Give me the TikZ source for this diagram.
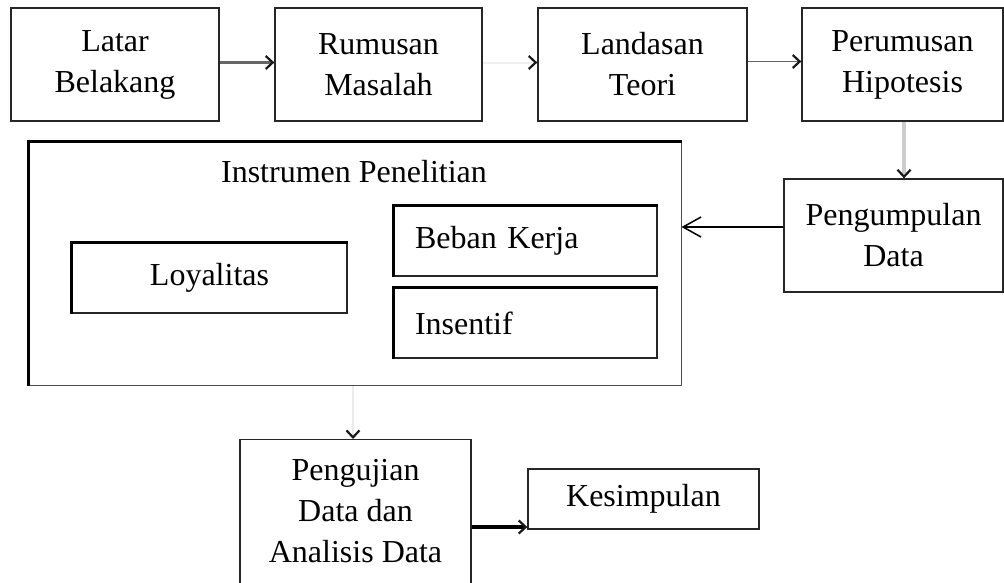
\documentclass[tikz,border=0pt]{standalone}
\usepackage{fontspec}
\setmainfont{Liberation Serif}
\usetikzlibrary{arrows.meta}
\begin{document}
\begin{tikzpicture}[x=1pt,y=-1pt,
  box/.style={draw=black!85, line width=1.3pt, inner sep=0pt, align=center,
    font=\fontsize{32}{41}\selectfont},
  leftbox/.style={box, align=left, inner xsep=21pt, text width=221pt},
  thickedge/.style={line width=3.2pt, black},
  smalltip/.style={-{Straight Barb[length=7pt,width=13pt,line width=2.2pt,color=black!90]}},
  bigtip/.style={-{Straight Barb[length=18pt,width=20pt,line width=1.5pt]}}
]
\useasboundingbox (0,0) rectangle (1004,582);
\clip (0,0) rectangle (1004,582);

% top row
\node[box, minimum width=208pt, minimum height=113pt] (latar) at (115,64.5) {Latar\\Belakang};
\node[box, minimum width=207pt, minimum height=113pt] (rumusan) at (378.5,64.5) {Rumusan\\Masalah};
\node[box, minimum width=209pt, minimum height=113pt] (landasan) at (642.5,64.5) {Landasan\\Teori};
\node[box, minimum width=201pt, minimum height=113pt] (perumusan) at (902.5,64.5) {Perumusan\\Hipotesis};

% pengumpulan
\node[box, minimum width=219pt, minimum height=113pt] (pengumpulan) at (893.5,235.5) {Pengumpulan\\Data};

% instrumen
\node[draw=black!70, line width=1pt, minimum width=652pt, minimum height=243pt, inner sep=0pt] (instrumen) at (355,263.5) {};
\draw[thickedge] (instrumen.south west) -- (instrumen.north west) -- (instrumen.north east);
\node[font=\fontsize{32}{41}\selectfont, inner sep=0pt] (title) at (354,172) {Instrumen Penelitian};

\node[box, line width=1.1pt, minimum width=275pt, minimum height=70pt] (loyalitas) at (209.5,278) {Loyalitas};
\draw[thickedge] (loyalitas.south west) -- (loyalitas.north west) -- (loyalitas.north east);
\node[leftbox, line width=1.1pt, minimum height=70pt] (beban) at (525.5,241) {Beban Kerja};
\draw[thickedge] (beban.south west) -- (beban.north west) -- (beban.north east);
\node[leftbox, line width=1.1pt, minimum height=70pt] (insentif) at (525.5,323) {Insentif};
\draw[thickedge] (insentif.south west) -- (insentif.north west) -- (insentif.north east);

% bottom
\node[box, minimum width=231pt, minimum height=162pt, anchor=north] (pengujian) at (355.5,439) {Pengujian\\Data dan\\Analisis Data\rule[-20pt]{0pt}{20pt}};
\node[box, minimum width=231pt, minimum height=60pt] (kesimpulan) at (643.5,499) {Kesimpulan};

% connectors
\draw[smalltip, line width=3.5pt, black!60] ([yshift=2pt]latar.east) -- ([yshift=2pt]rumusan.west);
\draw[smalltip, line width=2pt, black!6] ([yshift=2pt]rumusan.east) -- ([yshift=2pt]landasan.west);
\draw[smalltip, line width=1.8pt, black!60] ([yshift=3pt]landasan.east) -- ([yshift=3pt]perumusan.west);
\draw[smalltip, line width=4.5pt, black!20] ([xshift=1.5pt]perumusan.south) -- ([xshift=1.5pt]perumusan.south |- pengumpulan.north);
\draw[bigtip, line width=1.6pt, black] ([yshift=8.5pt]pengumpulan.west) -- ([yshift=8.5pt]pengumpulan.west -| instrumen.east);
\draw[smalltip, line width=1.5pt, black!8] ([xshift=-2pt]instrumen.south) -- ([xshift=-2pt]instrumen.south |- pengujian.north);
\draw[smalltip, line width=3.5pt, black] ([yshift=-28pt]kesimpulan.west -| pengujian.east) -- ([yshift=-28pt]kesimpulan.west);
\end{tikzpicture}
\end{document}
